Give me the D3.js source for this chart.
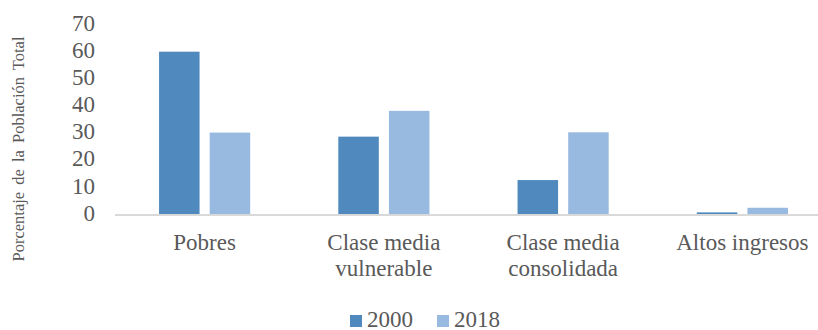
<!DOCTYPE html>
<html>
<head>
<meta charset="utf-8">
<script src="https://cdn.jsdelivr.net/npm/d3@7"></script>
</head>
<body style="margin:0;background:#fff">
<svg id="chart" width="818" height="330" style="display:block"></svg>
<script>
// Distribución de la población por estrato de ingreso (%)
const categories = [["Pobres"], ["Clase media", "vulnerable"], ["Clase media", "consolidada"], ["Altos ingresos"]];
const series = ["2000", "2018"];
const values2000 = [59.8, 28.5, 12.5, 0.6];
const values2018 = [30.0, 38.0, 30.1, 2.3];
const yTicks = [0, 10, 20, 30, 40, 50, 60, 70];
const colors = ["#4f89bd", "#98b9e0"];

const FONT = "'Liberation Serif'";
const INK = "#595959";

const svg = d3.select("#chart");
const margin = { left: 115, right: -14, top: 24, bottom: 116 };
const W = 818, H = 330;

const catKeys = categories.map(c => c.join(" "));
const x0 = d3.scaleBand().domain(catKeys).range([margin.left, W - margin.right]).padding(0);
const x1 = d3.scaleBand().domain(series).range([0, x0.bandwidth()])
  .paddingInner(0.2).paddingOuter(0.87);
const y = d3.scaleLinear().domain([0, 70]).range([H - margin.bottom, margin.top]);

const rows = catKeys.map((k, i) => ({ key: k, vals: [values2000[i], values2018[i]] }));

function styleText(sel, size) {
  return sel.attr("font-family", "Liberation Serif, serif")
    .style("font-family", FONT).style("font-size", size).style("fill", INK);
}

// bars
const groups = svg.append("g").selectAll("g").data(rows).join("g")
  .attr("transform", d => `translate(${x0(d.key)},0)`);
groups.selectAll("rect").data(d => d.vals.map((v, j) => ({ s: series[j], v, j })))
  .join("rect")
  .attr("x", d => x1(d.s))
  .attr("width", x1.bandwidth())
  .attr("y", d => y(d.v))
  .attr("height", d => y(0) - y(d.v))
  .attr("fill", d => colors[d.j]);

// baseline
svg.append("line")
  .attr("x1", margin.left).attr("x2", W)
  .attr("y1", y(0) + 1).attr("y2", y(0) + 1)
  .attr("stroke", "#d9d9d9").attr("stroke-width", 2);

// y axis labels
const yAxis = d3.axisLeft(y).tickValues(yTicks).tickSize(0).tickPadding(0);
const ya = svg.append("g").attr("transform", "translate(95,0)").call(yAxis);
ya.attr("font-family", null);
ya.select(".domain").remove();
styleText(ya.selectAll("text"), "23px").attr("dy", "0.27em");

// category labels
const cat = svg.append("g").selectAll("text").data(categories).join("text")
  .attr("x", (d, i) => x0(catKeys[i]) + x0.bandwidth() / 2)
  .attr("y", 250)
  .attr("text-anchor", "middle");
styleText(cat, "23px");
cat.selectAll("tspan").data(d => d).join("tspan")
  .attr("x", function () { return this.parentNode.getAttribute("x"); })
  .attr("dy", (d, i) => i === 0 ? 0 : 26)
  .text(d => d);

// y axis title
styleText(svg.append("text")
  .attr("transform", "translate(24,149) rotate(-90)")
  .attr("text-anchor", "middle")
  .style("word-spacing", "3px")
  .text("Porcentaje de la Población Total"), "16.5px");

// legend
const legend = svg.append("g").attr("transform", "translate(350,0)");
const items = legend.selectAll("g").data(series).join("g")
  .attr("transform", (d, i) => `translate(${i * 87},0)`);
items.append("rect").attr("x", 0).attr("y", 315).attr("width", 12).attr("height", 12)
  .attr("fill", (d, i) => colors[i]);
styleText(items.append("text").attr("x", 17).attr("y", 327).text(d => d), "23px");
</script>
</body>
</html>
